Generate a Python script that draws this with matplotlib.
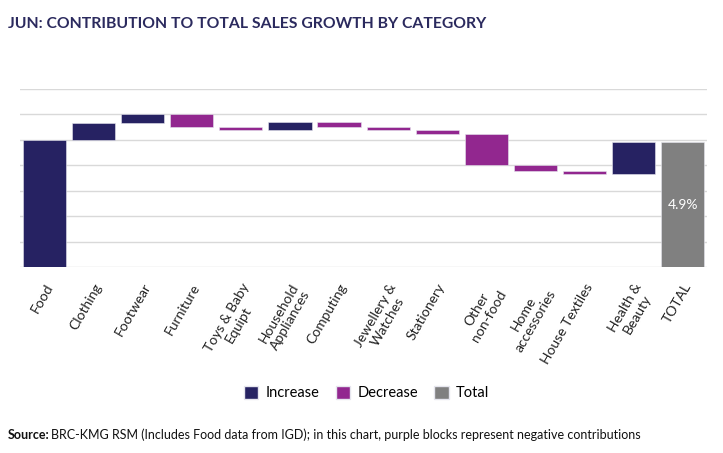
import matplotlib
matplotlib.use('Agg')

import matplotlib.pyplot as plt
from matplotlib.patches import Patch
import numpy as np

# Données (contribution en points de %)
categories = ['Food', 'Clothing', 'Footwear', 'Furniture', 'Toys & Baby\nEquipt',
              'Household\nAppliances', 'Computing', 'Jewellery &\nWatches', 'Stationery',
              'Other\nnon-food', 'Home\naccessories', 'House Textiles', 'Health &\nBeauty']
changes = [5.0, 0.65, 0.37, -0.52, -0.11, 0.30, -0.19, -0.11, -0.14, -1.25, -0.20, -0.12, 1.22]
total_label = 'TOTAL'
total_value = 4.9

NAVY = '#262262'
PURPLE = '#92278F'
GREY = '#808080'

plt.rcParams['font.family'] = ['Lato', 'DejaVu Sans']

fig = plt.figure(figsize=(7.23, 4.53), dpi=100)
ax = fig.add_axes([0.0277, 0.41, 0.9503, 0.3935])

# Waterfall: bas de chaque barre = cumul précédent
levels = np.cumsum([0] + changes)
for i, c in enumerate(changes):
    bottom = levels[i] if c >= 0 else levels[i] + c
    ax.bar(i, abs(c), bottom=bottom, width=0.88,
           color=NAVY if c >= 0 else PURPLE, edgecolor='#e6e6ee', linewidth=0.4, zorder=3)

n = len(changes)
ax.bar(n, total_value, width=0.88, color=GREY, edgecolor='#e6e6ee', linewidth=0.4, zorder=3)
ax.text(n, total_value / 2, f'{total_value}%', ha='center', va='center',
        color='white', fontsize=10, zorder=4)

ax.set_xlim(-0.5, n + 0.5)
ax.set_ylim(0, 7)
ax.set_yticks(range(0, 8))
ax.yaxis.grid(True, color='#d9d9d9', linewidth=1.0, zorder=0)
ax.tick_params(axis='y', left=False, labelleft=False)
ax.tick_params(axis='x', length=0, pad=10)
for s in ax.spines.values():
    s.set_visible(False)

ax.set_xticks(range(n + 1))
ax.set_xticklabels(categories + [total_label], rotation=60, ha='right',
                   rotation_mode='anchor', fontsize=10, color='#222222',
                   multialignment='center')

# Titre
fig.text(0.011, 0.948, 'JUN: CONTRIBUTION TO TOTAL SALES GROWTH BY CATEGORY',
         fontsize=11.3, fontweight='bold', color='#2b2a5e', ha='left', va='center')

# Légende
handles = [Patch(facecolor=NAVY, edgecolor='#e6e6ee', label='Increase'),
           Patch(facecolor=PURPLE, edgecolor='#e6e6ee', label='Decrease'),
           Patch(facecolor=GREY, edgecolor='#e6e6ee', label='Total')]
fig.legend(handles=handles, loc='center', bbox_to_anchor=(0.507, 0.132), ncol=3,
           frameon=False, fontsize=10.5, handlelength=1.0, handleheight=1.0,
           handletextpad=0.5, columnspacing=1.1)

# Source
renderer = fig.canvas.get_renderer()
src = fig.text(0.011, 0.04, 'Source:', fontsize=9, fontweight='bold', color='#111111',
               ha='left', va='center')
bb = src.get_window_extent(renderer)
fig.text((bb.x1 + 1.5) / fig.bbox.width, 0.04,
         'BRC-KMG RSM (Includes Food data from IGD); in this chart, purple blocks represent negative contributions',
         fontsize=9, color='#111111', ha='left', va='center')

fig.savefig('out.png', dpi=100, facecolor='white')
plt.close(fig)
